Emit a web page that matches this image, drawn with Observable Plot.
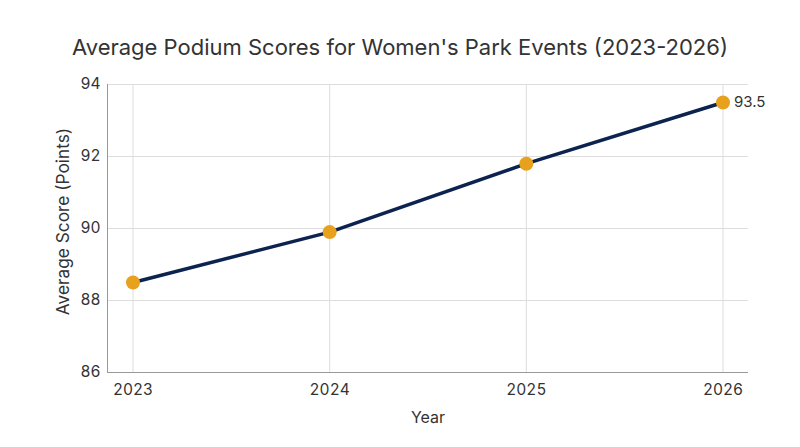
<!DOCTYPE html>
<html>
<head>
<meta charset="utf-8">
<script src="https://cdn.jsdelivr.net/npm/d3@7"></script>
<script src="https://cdn.jsdelivr.net/npm/@observablehq/plot@0.6"></script>
<style>
  html, body { margin: 0; padding: 0; background: #fff; }
  #wrap { width: 800px; height: 447px; font-family: Inter, sans-serif; }
  #title { height: 70px; box-sizing: border-box; padding-top: 33px; text-align: center; font-size: 22px; color: #333; line-height: 28px; }
  svg { display: block; overflow: visible; }
</style>
</head>
<body>
<div id="wrap">
  <div id="title">Average Podium Scores for Women's Park Events (2023-2026)</div>
  <div id="chart"></div>
</div>
<script>
const years = [2023, 2024, 2025, 2026];
const scores = [88.5, 89.9, 91.8, 93.5];
const yTicks = [86, 88, 90, 92, 94];

const data = years.map((y, i) => ({year: y, score: scores[i]}));
const last = data[data.length - 1];

const chart = Plot.plot({
  width: 800,
  height: 377,
  marginTop: 14,
  marginBottom: 75,
  marginLeft: 107,
  marginRight: 52,
  style: {fontFamily: "Inter, sans-serif", fontSize: "15px", color: "#333", background: "#fff", overflow: "visible"},
  x: {domain: [2023, 2026], insetLeft: 25.5, insetRight: 25.5, ticks: years, tickFormat: d => String(d), label: null},
  y: {domain: [86, 94], ticks: yTicks, label: null},
  marks: [
    Plot.gridX(years, {stroke: "#ddd", strokeOpacity: 1}),
    Plot.gridY(yTicks, {stroke: "#ddd", strokeOpacity: 1}),
    Plot.frame({anchor: "left", stroke: "#999"}),
    Plot.ruleY([86], {stroke: "#999"}),
    Plot.axisX({ticks: years, tickSize: 0, tickPadding: 11, tickFormat: d => String(d), fontSize: 15.5, fill: "#333", label: null}),
    Plot.axisY({ticks: yTicks, tickSize: 0, tickPadding: 7, fontSize: 15.5, fill: "#333", label: null}),
    Plot.text(["Year"], {frameAnchor: "bottom", dy: 50, fontSize: 16, fill: "#333"}),
    Plot.text(["Average Score (Points)"], {frameAnchor: "left", textAnchor: "middle", dx: -44, dy: -7, rotate: -90, fontSize: 17.3, fill: "#333"}),
    Plot.line(data, {x: "year", y: "score", stroke: "#0c2350", strokeWidth: 3.5}),
    Plot.dot(data, {x: "year", y: "score", r: 7, fill: "#e8a11c", stroke: null}),
    Plot.text([last], {x: "year", y: "score", text: d => String(d.score), textAnchor: "start", dx: 11, fontSize: 15, fill: "#333"})
  ]
});
document.getElementById("chart").appendChild(chart);
</script>
</body>
</html>
